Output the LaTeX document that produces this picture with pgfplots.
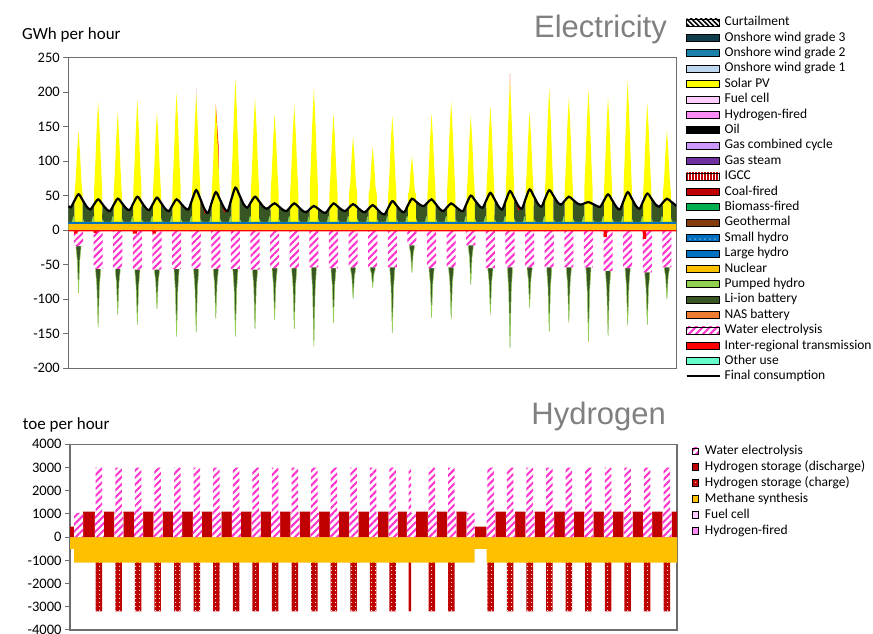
\documentclass[border=0pt]{standalone}
\usepackage{pgfplots}
\pgfplotsset{compat=1.18}
\usepackage{fontspec}
\setmainfont{Carlito}
\newfontfamily\arialf{Liberation Sans}
\usetikzlibrary{patterns.meta}
\definecolor{solar}{HTML}{FFFF00}
\definecolor{liion}{HTML}{375623}
\definecolor{pumped}{HTML}{92D050}
\definecolor{nuclear}{HTML}{FFC000}
\definecolor{lhydro}{HTML}{0070C0}
\definecolor{windthree}{HTML}{0F3D4C}
\definecolor{windtwo}{HTML}{1C81AA}
\definecolor{windone}{HTML}{BDD7EE}
\definecolor{fuelcell}{HTML}{FFCCFF}
\definecolor{hfired}{HTML}{FF8BF5}
\definecolor{gcc}{HTML}{CC99FF}
\definecolor{gassteam}{HTML}{7030A0}
\definecolor{coal}{HTML}{C00000}
\definecolor{biomass}{HTML}{00B050}
\definecolor{geo}{HTML}{843C0C}
\definecolor{nas}{HTML}{ED7D31}
\definecolor{elec}{HTML}{FF33CC}
\definecolor{trans}{HTML}{FF0000}
\definecolor{otheruse}{HTML}{66FFCC}
\definecolor{axgray}{HTML}{6E6E6E}
\definecolor{titlegray}{HTML}{808080}
\tikzset{
 elecpat/.style={fill=white, postaction={pattern={Lines[angle=45,distance=5pt,line width=2pt]}, pattern color=elec}},
 chargepat/.style={fill=coal, postaction={pattern={Dots[radius=0.7pt,distance=4pt]}, pattern color=white}},
 shydropat/.style={fill=lhydro, postaction={pattern={Dots[radius=0.7pt,distance=5pt]}, pattern color=white}},
 igccpat/.style={fill=white, postaction={pattern={Lines[angle=90,distance=3pt,line width=1.4pt]}, pattern color=coal}},
 curtpat/.style={fill=white, postaction={pattern={Lines[angle=-45,distance=3.5pt,line width=1.6pt]}, pattern color=black}},
}
\newcommand{\legrect}[1]{\addlegendimage{legend image code/.code={\path[#1] (0pt,-3.5pt) rectangle (33pt,3.5pt);}}}
\newcommand{\legsq}[1]{\addlegendimage{legend image code/.code={\path[#1] (0pt,-3.25pt) rectangle (6.5pt,3.25pt);}}}
\pgfplotsset{
 myaxis/.style={scale only axis, anchor=south west, xmin=0, xmax=744, xtick=\empty,
  ytick pos=left, tick align=outside, major tick length=5pt,
  axis line style={draw=axgray, line width=1.3pt}, tick style={draw=axgray, line width=1pt},
  yticklabel style={font=\fontsize{14.5}{17}\selectfont},
  /pgf/number format/assume math mode=true, /pgf/number format/1000 sep={},
  legend cell align=left},
}
\begin{document}
\begin{tikzpicture}
\useasboundingbox (0,0) rectangle (873pt,634pt);
\node[anchor=base west, inner sep=0pt, font=\fontsize{17}{20}\selectfont] at (22pt,594.7pt) {GWh per hour};
\node[anchor=base east, inner sep=0pt, text=titlegray, font=\arialf\fontsize{31}{36}\selectfont] at (667pt,596pt) {Electricity};
\node[anchor=base west, inner sep=0pt, font=\fontsize{17}{20}\selectfont] at (22.7pt,204pt) {toe per hour};
\node[anchor=base east, inner sep=0pt, text=titlegray, font=\arialf\fontsize{31}{36}\selectfont] at (666pt,209pt) {Hydrogen};
\begin{axis}[myaxis, at={(68.3pt,265.7pt)}, width=608pt, height=310.8pt,
 ymin=-200, ymax=250, ytick={-200,-150,...,250},
 legend style={at={(1.015,1.135)}, anchor=north west, draw=none, fill=none, inner sep=0pt,
  font=\fontsize{13.5}{15}\selectfont, row sep=2.4pt, column sep=4pt,
  nodes={inner sep=0pt, text height=10pt, text depth=3pt}}]
% inter-regional (positive, drawn first)
\addplot[forget plot, fill=trans, draw=none] coordinates {(0,0)(155.8,0)(156.5,206)(157.2,0)(161.6,0)(161.7,45.5)(166.5,30.9)(171,25)(171.1,0)(180.4,0)(180.5,183)(184,120)(184.1,0)(185.6,0)(185.7,44.6)(190.5,32.5)(195,27.6)(195.1,0)(539.8,0)(540.5,227)(541.2,0)(545.6,0)(545.7,46.9)(550.5,35.6)(555,31)(555.1,0)(744,0)} \closedcycle;
% solar PV
\addplot[forget plot, fill=solar, draw=none] coordinates {(0,0)
(7.4,0)(7.5,52)(9,72)(10.7,112)(12.5,144)(14.3,112)(16,72)(17.5,52)(17.6,0)
(31.4,0)(31.5,56)(33,94)(34.7,146)(36.5,187)(38.3,146)(40,94)(41.5,56)(41.6,0)
(55.4,0)(55.5,52)(57,86)(58.7,133)(60.5,171)(62.3,133)(64,86)(65.5,52)(65.6,0)
(79.4,0)(79.5,57)(81,95)(82.7,147)(84.5,189)(86.3,147)(88,95)(89.5,57)(89.6,0)
(103.4,0)(103.5,52)(105,86)(106.7,133)(108.5,171)(110.3,133)(112,86)(113.5,52)(113.6,0)
(127.4,0)(127.5,60)(129,100)(130.7,155)(132.5,199)(134.3,155)(136,100)(137.5,60)(137.6,0)
(151.4,0)(151.5,59)(153,99)(154.7,154)(156.5,197)(158.3,154)(160,99)(161.5,59)(161.6,0)
(175.4,0)(175.5,54)(177,91)(178.7,141)(180.5,181)(182.3,141)(184,91)(185.5,54)(185.6,0)
(199.4,0)(199.5,66)(201,110)(202.7,171)(204.5,219)(206.3,171)(208,110)(209.5,66)(209.6,0)
(223.4,0)(223.5,58)(225,96)(226.7,150)(228.5,192)(230.3,150)(232,96)(233.5,58)(233.6,0)
(247.4,0)(247.5,52)(249,84)(250.7,131)(252.5,168)(254.3,131)(256,84)(257.5,52)(257.6,0)
(271.4,0)(271.5,54)(273,91)(274.7,141)(276.5,181)(278.3,141)(280,91)(281.5,54)(281.6,0)
(295.4,0)(295.5,62)(297,103)(298.7,160)(300.5,205)(302.3,160)(304,103)(305.5,62)(305.6,0)
(319.4,0)(319.5,52)(321,85)(322.7,132)(324.5,169)(326.3,132)(328,85)(329.5,52)(329.6,0)
(343.4,0)(343.5,52)(345,68)(346.7,106)(348.5,136)(350.3,106)(352,68)(353.5,52)(353.6,0)
(367.4,0)(367.5,52)(369,61)(370.7,94)(372.5,121)(374.3,94)(376,61)(377.5,52)(377.6,0)
(391.4,0)(391.5,52)(393,83)(394.7,130)(396.5,166)(398.3,130)(400,83)(401.5,52)(401.6,0)
(415.4,0)(415.5,52)(417,56)(418.7,84)(420.5,108)(422.3,84)(424,56)(425.5,52)(425.6,0)
(439.4,0)(439.5,52)(441,85)(442.7,132)(444.5,169)(446.3,132)(448,85)(449.5,52)(449.6,0)
(463.4,0)(463.5,56)(465,94)(466.7,146)(468.5,187)(470.3,146)(472,94)(473.5,56)(473.6,0)
(487.4,0)(487.5,52)(489,83)(490.7,130)(492.5,166)(494.3,130)(496,83)(497.5,52)(497.6,0)
(511.4,0)(511.5,54)(513,90)(514.7,140)(516.5,180)(518.3,140)(520,90)(521.5,54)(521.6,0)
(535.4,0)(535.5,65)(537,109)(538.7,169)(540.5,217)(542.3,169)(544,109)(545.5,65)(545.6,0)
(559.4,0)(559.5,52)(561,86)(562.7,134)(564.5,172)(566.3,134)(568,86)(569.5,52)(569.6,0)
(583.4,0)(583.5,62)(585,103)(586.7,161)(588.5,206)(590.3,161)(592,103)(593.5,62)(593.6,0)
(607.4,0)(607.5,58)(609,97)(610.7,151)(612.5,193)(614.3,151)(616,97)(617.5,58)(617.6,0)
(631.4,0)(631.5,61)(633,102)(634.7,159)(636.5,204)(638.3,159)(640,102)(641.5,61)(641.6,0)
(655.4,0)(655.5,58)(657,97)(658.7,151)(660.5,193)(662.3,151)(664,97)(665.5,58)(665.6,0)
(679.4,0)(679.5,65)(681,109)(682.7,169)(684.5,217)(686.3,169)(688,109)(689.5,65)(689.6,0)
(703.4,0)(703.5,55)(705,92)(706.7,144)(708.5,184)(710.3,144)(712,92)(713.5,55)(713.6,0)
(727.4,0)(727.5,52)(729,73)(730.7,113)(732.5,145)(734.3,113)(736,73)(737.5,52)(737.6,0)
(744,0)} \closedcycle;
% Li-ion discharge (cumulative top)
\addplot[forget plot, fill=liion, draw=none] coordinates {(0,35)
(3,33)(7.4,42.5)(7.5,12)(17.5,12)(17.6,43.6)(22.5,34)
(27,30)(31.4,37.3)(31.5,12)(41.5,12)(41.6,38.1)(46.5,30.7)
(51,27.6)(55.4,36.6)(55.5,12)(65.5,12)(65.6,39.3)(70.5,32)
(75,29)(79.4,38.7)(79.5,12)(89.5,12)(89.6,41)(94.5,32.5)
(99,29)(103.4,38)(103.5,12)(113.5,12)(113.6,39.6)(118.5,31.1)
(123,27.6)(127.4,36.1)(127.5,12)(137.5,12)(137.6,39.1)(142.5,32.6)
(147,30)(151.4,44)(151.5,12)(161.5,12)(161.6,45.5)(166.5,23.9)
(171,25)(175.4,40)(175.5,12)(185.5,12)(185.6,44.6)(190.5,25.5)
(195,27.6)(199.4,44.6)(199.5,12)(209.5,12)(209.6,50.5)(214.5,37.7)
(219,32.5)(223.4,40.5)(223.5,12)(233.5,12)(233.6,41.8)(238.5,34.1)
(243,31)(247.4,34.9)(247.5,12)(257.5,12)(257.6,34.5)(262.5,29.6)
(267,27.6)(271.4,33.2)(271.5,12)(281.5,12)(281.6,33.9)(286.5,28.3)
(291,26)(295.4,30.5)(295.5,12)(305.5,12)(305.6,31.2)(310.5,26.8)
(315,25)(319.4,31.9)(319.5,12)(329.5,12)(329.6,34.5)(334.5,29.6)
(339,27.6)(343.4,32.7)(343.5,12)(353.5,12)(353.6,33.3)(358.5,28.1)
(363,26)(367.4,31.2)(367.5,12)(377.5,12)(377.6,31.2)(382.5,25.2)
(387,22.8)(391.4,32.4)(391.5,12)(401.5,12)(401.6,35.9)(406.5,28.9)
(411,26)(415.4,35.8)(415.5,12)(425.5,12)(425.6,41.4)(430.5,36.7)
(435,34.8)(439.4,39.7)(439.5,12)(449.5,12)(449.6,38.1)(454.5,30.7)
(459,27.6)(463.4,33.2)(463.5,12)(473.5,12)(473.6,34.5)(478.5,29.6)
(483,27.6)(487.4,38.8)(487.5,12)(497.5,12)(497.6,43.4)(502.5,35.7)
(507,32.5)(511.4,43.3)(511.5,12)(521.5,12)(521.6,44.9)(526.5,34.3)
(531,30)(535.4,43.3)(535.5,12)(545.5,12)(545.6,46.9)(550.5,28.6)
(555,31)(559.4,45)(559.5,12)(569.5,12)(569.6,49.5)(574.5,38.5)
(579,34)(583.4,46)(583.5,12)(593.5,12)(593.6,50)(598.5,40.8)
(603,37)(607.4,42.7)(607.5,12)(617.5,12)(617.6,44.1)(622.5,39.1)
(627,37)(631.4,38.8)(631.5,12)(641.5,12)(641.6,38.1)(646.5,35.2)
(651,34)(655.4,42.9)(655.5,12)(665.5,12)(665.6,43.5)(670.5,33.9)
(675,30)(679.4,42.5)(679.5,12)(689.5,12)(689.6,45.9)(694.5,35.3)
(699,31)(703.4,42)(703.5,12)(713.5,12)(713.6,45.8)(718.5,37.4)
(723,34)(727.4,39.8)(727.5,12)(737.5,12)(737.6,41.4)(742.5,36.7)
(744,34.8)} \closedcycle;
% pumped hydro discharge
\addplot[forget plot, fill=pumped, draw=none] coordinates {(0,12)
(4.5,12)(6,20)(7.4,20)(7.5,12)(17.5,12)(17.6,17)(19.5,12)
(28.5,12)(30,20)(31.4,20)(31.5,12)(41.5,12)(41.6,17)(43.5,12)
(52.5,12)(54,20)(55.4,20)(55.5,12)(65.5,12)(65.6,17)(67.5,12)
(76.5,12)(78,20)(79.4,20)(79.5,12)(89.5,12)(89.6,17)(91.5,12)
(100.5,12)(102,20)(103.4,20)(103.5,12)(113.5,12)(113.6,17)(115.5,12)
(124.5,12)(126,20)(127.4,20)(127.5,12)(137.5,12)(137.6,17)(139.5,12)
(148.5,12)(150,20)(151.4,20)(151.5,12)(161.5,12)(161.6,17)(163.5,12)
(172.5,12)(174,20)(175.4,20)(175.5,12)(185.5,12)(185.6,17)(187.5,12)
(196.5,12)(198,20)(199.4,20)(199.5,12)(209.5,12)(209.6,17)(211.5,12)
(220.5,12)(222,20)(223.4,20)(223.5,12)(233.5,12)(233.6,17)(235.5,12)
(244.5,12)(246,20)(247.4,20)(247.5,12)(257.5,12)(257.6,17)(259.5,12)
(268.5,12)(270,20)(271.4,20)(271.5,12)(281.5,12)(281.6,17)(283.5,12)
(292.5,12)(294,20)(295.4,20)(295.5,12)(305.5,12)(305.6,17)(307.5,12)
(316.5,12)(318,20)(319.4,20)(319.5,12)(329.5,12)(329.6,17)(331.5,12)
(340.5,12)(342,20)(343.4,20)(343.5,12)(353.5,12)(353.6,17)(355.5,12)
(364.5,12)(366,20)(367.4,20)(367.5,12)(377.5,12)(377.6,17)(379.5,12)
(388.5,12)(390,20)(391.4,20)(391.5,12)(401.5,12)(401.6,17)(403.5,12)
(412.5,12)(414,20)(415.4,20)(415.5,12)(425.5,12)(425.6,17)(427.5,12)
(436.5,12)(438,20)(439.4,20)(439.5,12)(449.5,12)(449.6,17)(451.5,12)
(460.5,12)(462,20)(463.4,20)(463.5,12)(473.5,12)(473.6,17)(475.5,12)
(484.5,12)(486,20)(487.4,20)(487.5,12)(497.5,12)(497.6,17)(499.5,12)
(508.5,12)(510,20)(511.4,20)(511.5,12)(521.5,12)(521.6,17)(523.5,12)
(532.5,12)(534,20)(535.4,20)(535.5,12)(545.5,12)(545.6,17)(547.5,12)
(556.5,12)(558,20)(559.4,20)(559.5,12)(569.5,12)(569.6,17)(571.5,12)
(580.5,12)(582,20)(583.4,20)(583.5,12)(593.5,12)(593.6,17)(595.5,12)
(604.5,12)(606,20)(607.4,20)(607.5,12)(617.5,12)(617.6,17)(619.5,12)
(628.5,12)(630,20)(631.4,20)(631.5,12)(641.5,12)(641.6,17)(643.5,12)
(652.5,12)(654,20)(655.4,20)(655.5,12)(665.5,12)(665.6,17)(667.5,12)
(676.5,12)(678,20)(679.4,20)(679.5,12)(689.5,12)(689.6,17)(691.5,12)
(700.5,12)(702,20)(703.4,20)(703.5,12)(713.5,12)(713.6,17)(715.5,12)
(724.5,12)(726,20)(727.4,20)(727.5,12)(737.5,12)(737.6,17)(739.5,12)
(744,12)} \closedcycle;
% base layers
\addplot[forget plot, fill=windthree, draw=none] coordinates {(0,12.3)(744,12.3)} \closedcycle;
\addplot[forget plot, fill=lhydro, draw=none] coordinates {(0,11.3)(744,11.3)} \closedcycle;
\addplot[forget plot, fill=nuclear, draw=none] coordinates {(0,9)(744,9)} \closedcycle;
% Li-ion charge (with pumped hydro outline)
\addplot[forget plot, fill=liion, draw=pumped, line width=0.5pt] coordinates {(0,0)
(9,0)(9.5,-26)(11,-43.4)(12.5,-91)(14,-43.4)(15.5,-26)(16,0)
(33,0)(33.5,-59)(35,-81.5)(36.5,-141)(38,-81.5)(39.5,-59)(40,0)
(57,0)(57.5,-59)(59,-75.8)(60.5,-122)(62,-75.8)(63.5,-59)(64,0)
(81,0)(81.5,-60)(83,-81)(84.5,-137)(86,-81)(87.5,-60)(88,0)
(105,0)(105.5,-60)(107,-74.1)(108.5,-114)(110,-74.1)(111.5,-60)(112,0)
(129,0)(129.5,-59)(131,-85.4)(132.5,-154)(134,-85.4)(135.5,-59)(136,0)
(153,0)(153.5,-59)(155,-83.6)(156.5,-148)(158,-83.6)(159.5,-59)(160,0)
(177,0)(177.5,-59)(179,-77.6)(180.5,-128)(182,-77.6)(183.5,-59)(184,0)
(201,0)(201.5,-59)(203,-85.4)(204.5,-154)(206,-85.4)(207.5,-59)(208,0)
(225,0)(225.5,-60)(227,-82.8)(228.5,-143)(230,-82.8)(231.5,-60)(232,0)
(249,0)(249.5,-58)(251,-77.5)(252.5,-130)(254,-77.5)(255.5,-58)(256,0)
(273,0)(273.5,-58)(275,-81.4)(276.5,-143)(278,-81.4)(279.5,-58)(280,0)
(297,0)(297.5,-57)(299,-88.2)(300.5,-168)(302,-88.2)(303.5,-57)(304,0)
(321,0)(321.5,-58)(323,-78.7)(324.5,-134)(326,-78.7)(327.5,-58)(328,0)
(345,0)(345.5,-57)(347,-67.8)(348.5,-100)(350,-67.8)(351.5,-57)(352,0)
(369,0)(369.5,-57)(371,-62.7)(372.5,-83)(374,-62.7)(375.5,-57)(376,0)
(393,0)(393.5,-57)(395,-82.5)(396.5,-149)(398,-82.5)(399.5,-57)(400,0)
(417,0)(417.5,-25)(419,-34)(420.5,-62)(422,-34)(423.5,-25)(424,0)
(441,0)(441.5,-58)(443,-76.6)(444.5,-127)(446,-76.6)(447.5,-58)(448,0)
(465,0)(465.5,-57)(467,-76.5)(468.5,-129)(470,-76.5)(471.5,-57)(472,0)
(489,0)(489.5,-25)(491,-39.1)(492.5,-79)(494,-39.1)(495.5,-25)(496,0)
(513,0)(513.5,-58)(515,-75.1)(516.5,-122)(518,-75.1)(519.5,-58)(520,0)
(537,0)(537.5,-57)(539,-88.8)(540.5,-170)(542,-88.8)(543.5,-57)(544,0)
(561,0)(561.5,-57)(563,-71.7)(564.5,-113)(566,-71.7)(567.5,-57)(568,0)
(585,0)(585.5,-57)(587,-81.9)(588.5,-147)(590,-81.9)(591.5,-57)(592,0)
(609,0)(609.5,-57)(611,-78)(612.5,-134)(614,-78)(615.5,-57)(616,0)
(633,0)(633.5,-57)(635,-86.4)(636.5,-162)(638,-86.4)(639.5,-57)(640,0)
(657,0)(657.5,-62)(659,-87.2)(660.5,-153)(662,-87.2)(663.5,-62)(664,0)
(681,0)(681.5,-58)(683,-79.9)(684.5,-138)(686,-79.9)(687.5,-58)(688,0)
(705,0)(705.5,-64)(707,-83.8)(708.5,-137)(710,-83.8)(711.5,-64)(712,0)
(729,0)(729.5,-57)(731,-67.8)(732.5,-100)(734,-67.8)(735.5,-57)(736,0)
(744,0)} \closedcycle;
% water electrolysis
\addplot[forget plot, elecpat, draw=none] coordinates {(0,0)
(6.9,0)(7,-23)(18,-23)(18.1,0)
(30.9,0)(31,-56)(42,-56)(42.1,0)
(54.9,0)(55,-56)(66,-56)(66.1,0)
(78.9,0)(79,-57)(90,-57)(90.1,0)
(102.9,0)(103,-57)(114,-57)(114.1,0)
(126.9,0)(127,-56)(138,-56)(138.1,0)
(150.9,0)(151,-56)(162,-56)(162.1,0)
(174.9,0)(175,-56)(186,-56)(186.1,0)
(198.9,0)(199,-56)(210,-56)(210.1,0)
(222.9,0)(223,-57)(234,-57)(234.1,0)
(246.9,0)(247,-55)(258,-55)(258.1,0)
(270.9,0)(271,-55)(282,-55)(282.1,0)
(294.9,0)(295,-54)(306,-54)(306.1,0)
(318.9,0)(319,-55)(330,-55)(330.1,0)
(342.9,0)(343,-54)(354,-54)(354.1,0)
(366.9,0)(367,-54)(378,-54)(378.1,0)
(390.9,0)(391,-54)(402,-54)(402.1,0)
(414.9,0)(415,-22)(426,-22)(426.1,0)
(438.9,0)(439,-55)(450,-55)(450.1,0)
(462.9,0)(463,-54)(474,-54)(474.1,0)
(486.9,0)(487,-22)(498,-22)(498.1,0)
(510.9,0)(511,-55)(522,-55)(522.1,0)
(534.9,0)(535,-54)(546,-54)(546.1,0)
(558.9,0)(559,-54)(570,-54)(570.1,0)
(582.9,0)(583,-54)(594,-54)(594.1,0)
(606.9,0)(607,-54)(618,-54)(618.1,0)
(630.9,0)(631,-54)(642,-54)(642.1,0)
(654.9,0)(655,-59)(666,-59)(666.1,0)
(678.9,0)(679,-55)(690,-55)(690.1,0)
(702.9,0)(703,-61)(714,-61)(714.1,0)
(726.9,0)(727,-54)(738,-54)(738.1,0)
(744,0)} \closedcycle;
% inter-regional (negative)
\addplot[forget plot, fill=trans, draw=none] coordinates {(0,-1.8)(7,-1.8)(7.1,-5)(11,-5)(11.1,-1.8)(31,-1.8)(31.1,-4)(35,-4)(35.1,-1.8)(79,-1.8)(79.1,-5)(84,-5)(84.1,-1.8)(103,-1.8)(103.1,-5)(107,-5)(107.1,-1.8)(655,-1.8)(655.1,-10)(659,-10)(659.1,-1.8)(703,-1.8)(703.1,-12.5)(707,-12.5)(707.1,-1.8)(744,-1.8)} \closedcycle;
% final consumption
\addplot[forget plot, black, line width=2.2pt, smooth] coordinates {(0,35)
(3,33)(7.5,42.5)(12.5,52)(17.5,43.6)(22.5,34)
(27,30)(31.5,37.3)(36.5,44.6)(41.5,38.1)(46.5,30.7)
(51,27.6)(55.5,36.6)(60.5,45.6)(65.5,39.3)(70.5,32)
(75,29)(79.5,38.7)(84.5,48.4)(89.5,41)(94.5,32.5)
(99,29)(103.5,38)(108.5,47)(113.5,39.6)(118.5,31.1)
(123,27.6)(127.5,36.1)(132.5,44.6)(137.5,39.1)(142.5,32.6)
(147,30)(151.5,44)(156.5,58)(161.5,45.5)(166.5,30.9)
(171,25)(175.5,40)(180.5,55)(185.5,44.6)(190.5,32.5)
(195,27.6)(199.5,44.6)(204.5,61.5)(209.5,50.5)(214.5,37.7)
(219,32.5)(223.5,40.5)(228.5,48.4)(233.5,41.8)(238.5,34.1)
(243,31)(247.5,34.9)(252.5,38.8)(257.5,34.5)(262.5,29.6)
(267,27.6)(271.5,33.2)(276.5,38.8)(281.5,33.9)(286.5,28.3)
(291,26)(295.5,30.5)(300.5,35)(305.5,31.2)(310.5,26.8)
(315,25)(319.5,31.9)(324.5,38.7)(329.5,34.5)(334.5,29.6)
(339,27.6)(343.5,32.7)(348.5,37.7)(353.5,33.3)(358.5,28.1)
(363,26)(367.5,31.2)(372.5,36.3)(377.5,31.2)(382.5,25.2)
(387,22.8)(391.5,32.4)(396.5,42)(401.5,35.9)(406.5,28.9)
(411,26)(415.5,35.8)(420.5,45.5)(425.5,41.4)(430.5,36.7)
(435,34.8)(439.5,39.7)(444.5,44.6)(449.5,38.1)(454.5,30.7)
(459,27.6)(463.5,33.2)(468.5,38.7)(473.5,34.5)(478.5,29.6)
(483,27.6)(487.5,38.8)(492.5,50)(497.5,43.4)(502.5,35.7)
(507,32.5)(511.5,43.3)(516.5,54)(521.5,44.9)(526.5,34.3)
(531,30)(535.5,43.3)(540.5,56.6)(545.5,46.9)(550.5,35.6)
(555,31)(559.5,45)(564.5,59)(569.5,49.5)(574.5,38.5)
(579,34)(583.5,46)(588.5,58)(593.5,50)(598.5,40.8)
(603,37)(607.5,42.7)(612.5,48.4)(617.5,44.1)(622.5,39.1)
(627,37)(631.5,38.8)(636.5,40.6)(641.5,38.1)(646.5,35.2)
(651,34)(655.5,42.9)(660.5,51.8)(665.5,43.5)(670.5,33.9)
(675,30)(679.5,42.5)(684.5,55)(689.5,45.9)(694.5,35.3)
(699,31)(703.5,42)(708.5,53)(713.5,45.8)(718.5,37.4)
(723,34)(727.5,39.8)(732.5,45.5)(737.5,41.4)(742.5,36.7)
(744,34.8)};
% legend
\legrect{curtpat}\addlegendentry{Curtailment}
\legrect{fill=windthree}\addlegendentry{Onshore wind grade 3}
\legrect{fill=windtwo}\addlegendentry{Onshore wind grade 2}
\legrect{fill=windone}\addlegendentry{Onshore wind grade 1}
\legrect{fill=solar}\addlegendentry{Solar PV}
\legrect{fill=fuelcell}\addlegendentry{Fuel cell}
\legrect{fill=hfired}\addlegendentry{Hydrogen-fired}
\legrect{fill=black}\addlegendentry{Oil}
\legrect{fill=gcc}\addlegendentry{Gas combined cycle}
\legrect{fill=gassteam}\addlegendentry{Gas steam}
\legrect{igccpat}\addlegendentry{IGCC}
\legrect{fill=coal}\addlegendentry{Coal-fired}
\legrect{fill=biomass}\addlegendentry{Biomass-fired}
\legrect{fill=geo}\addlegendentry{Geothermal}
\legrect{shydropat}\addlegendentry{Small hydro}
\legrect{fill=lhydro}\addlegendentry{Large hydro}
\legrect{fill=nuclear}\addlegendentry{Nuclear}
\legrect{fill=pumped}\addlegendentry{Pumped hydro}
\legrect{fill=liion}\addlegendentry{Li-ion battery}
\legrect{fill=nas}\addlegendentry{NAS battery}
\legrect{elecpat}\addlegendentry{Water electrolysis}
\legrect{fill=trans}\addlegendentry{Inter-regional transmission}
\legrect{fill=otheruse}\addlegendentry{Other use}
\addlegendimage{legend image code/.code={\draw[black, line width=2pt] (0pt,0pt) -- (33pt,0pt);}}\addlegendentry{Final consumption}
\end{axis}

\begin{axis}[myaxis, at={(70pt,4pt)}, width=607pt, height=185.7pt,
 ymin=-4000, ymax=4000, ytick={-4000,-3000,...,4000},
 legend style={at={(1.024,1.0)}, anchor=north west, draw=none, fill=none, inner sep=0pt,
  font=\fontsize{13.5}{15}\selectfont, row sep=2.9pt, column sep=6.3pt,
  nodes={inner sep=0pt, text height=10pt, text depth=3pt}}]
% hydrogen storage (charge), cumulative below methane
\addplot[forget plot, const plot, chargepat, draw=none] coordinates {(0,0)
(31.5,-3200)(39.5,0)(55.5,-3200)(63.5,0)(79.5,-3200)(87.5,0)(103.5,-3200)(111.5,0)
(127.5,-3200)(135.5,0)(151.5,-3200)(159.5,0)(175.5,-3200)(183.5,0)(199.5,-3200)(207.5,0)
(223.5,-3200)(231.5,0)(247.5,-3200)(255.5,0)(271.5,-3200)(279.5,0)(295.5,-3200)(303.5,0)
(319.5,-3200)(327.5,0)(343.5,-3200)(351.5,0)(367.5,-3200)(375.5,0)(391.5,-3200)(399.5,0)
(415,-3200)(418,0)(439.5,-3200)(447.5,0)(463.5,-3200)(471.5,0)
(511.5,-3200)(519.5,0)(535.5,-3200)(543.5,0)(559.5,-3200)(567.5,0)(583.5,-3200)(591.5,0)
(607.5,-3200)(615.5,0)(631.5,-3200)(639.5,0)(655.5,-3200)(663.5,0)(679.5,-3200)(687.5,0)
(703.5,-3200)(711.5,0)(727.5,-3200)(735.5,0)(744,0)} \closedcycle;
% methane synthesis
\addplot[forget plot, const plot, fill=nuclear, draw=none] coordinates {(0,-500)(5,-1100)(496,-500)(510.5,-1100)(744,-1100)} \closedcycle;
% hydrogen storage (discharge)
\addplot[forget plot, const plot, fill=coal, draw=none] coordinates {(0,450)(5,0)(16,1100)
(30.5,0)(41.5,1100)(54.5,0)(65.5,1100)(78.5,0)(89.5,1100)(102.5,0)(113.5,1100)
(126.5,0)(137.5,1100)(150.5,0)(161.5,1100)(174.5,0)(185.5,1100)(198.5,0)(209.5,1100)
(222.5,0)(233.5,1100)(246.5,0)(257.5,1100)(270.5,0)(281.5,1100)(294.5,0)(305.5,1100)
(318.5,0)(329.5,1100)(342.5,0)(353.5,1100)(366.5,0)(377.5,1100)(390.5,0)(401.5,1100)
(413,0)(424,1100)(438.5,0)(449.5,1100)(462.5,0)(473.5,1100)(486,0)(496,450)
(510.5,0)(521.5,1100)(534.5,0)(545.5,1100)(558.5,0)(569.5,1100)(582.5,0)(593.5,1100)
(606.5,0)(617.5,1100)(630.5,0)(641.5,1100)(654.5,0)(665.5,1100)(678.5,0)(689.5,1100)
(702.5,0)(713.5,1100)(726.5,0)(737.5,1100)(744,1100)} \closedcycle;
% water electrolysis
\addplot[forget plot, const plot, elecpat, draw=none] coordinates {(0,0)(5,1050)(16,0)
(30.5,1050)(31.5,3000)(39.5,1050)(41.5,0)
(54.5,1050)(55.5,3000)(63.5,1050)(65.5,0)
(78.5,1050)(79.5,3000)(87.5,1050)(89.5,0)
(102.5,1050)(103.5,3000)(111.5,1050)(113.5,0)
(126.5,1050)(127.5,3000)(135.5,1050)(137.5,0)
(150.5,1050)(151.5,3000)(159.5,1050)(161.5,0)
(174.5,1050)(175.5,3000)(183.5,1050)(185.5,0)
(198.5,1050)(199.5,3000)(207.5,1050)(209.5,0)
(222.5,1050)(223.5,3000)(231.5,1050)(233.5,0)
(246.5,1050)(247.5,3000)(255.5,1050)(257.5,0)
(270.5,1050)(271.5,3000)(279.5,1050)(281.5,0)
(294.5,1050)(295.5,3000)(303.5,1050)(305.5,0)
(318.5,1050)(319.5,3000)(327.5,1050)(329.5,0)
(342.5,1050)(343.5,3000)(351.5,1050)(353.5,0)
(366.5,1050)(367.5,3000)(375.5,1050)(377.5,0)
(390.5,1050)(391.5,3000)(399.5,1050)(401.5,0)
(413,1050)(415,3000)(418,1050)(424,0)
(438.5,1050)(439.5,3000)(447.5,1050)(449.5,0)
(462.5,1050)(463.5,3000)(471.5,1050)(473.5,0)
(486,1050)(496,0)
(510.5,1050)(511.5,3000)(519.5,1050)(521.5,0)
(534.5,1050)(535.5,3000)(543.5,1050)(545.5,0)
(558.5,1050)(559.5,3000)(567.5,1050)(569.5,0)
(582.5,1050)(583.5,3000)(591.5,1050)(593.5,0)
(606.5,1050)(607.5,3000)(615.5,1050)(617.5,0)
(630.5,1050)(631.5,3000)(639.5,1050)(641.5,0)
(654.5,1050)(655.5,3000)(663.5,1050)(665.5,0)
(678.5,1050)(679.5,3000)(687.5,1050)(689.5,0)
(702.5,1050)(703.5,3000)(711.5,1050)(713.5,0)
(726.5,1050)(727.5,3000)(735.5,1050)(737.5,0)
(744,0)} \closedcycle;
\legsq{elecpat}\addlegendentry{Water electrolysis}
\legsq{fill=coal}\addlegendentry{Hydrogen storage (discharge)}
\legsq{chargepat}\addlegendentry{Hydrogen storage (charge)}
\legsq{fill=nuclear}\addlegendentry{Methane synthesis}
\legsq{fill=fuelcell}\addlegendentry{Fuel cell}
\legsq{fill=hfired}\addlegendentry{Hydrogen-fired}
\end{axis}
\end{tikzpicture}
\end{document}
